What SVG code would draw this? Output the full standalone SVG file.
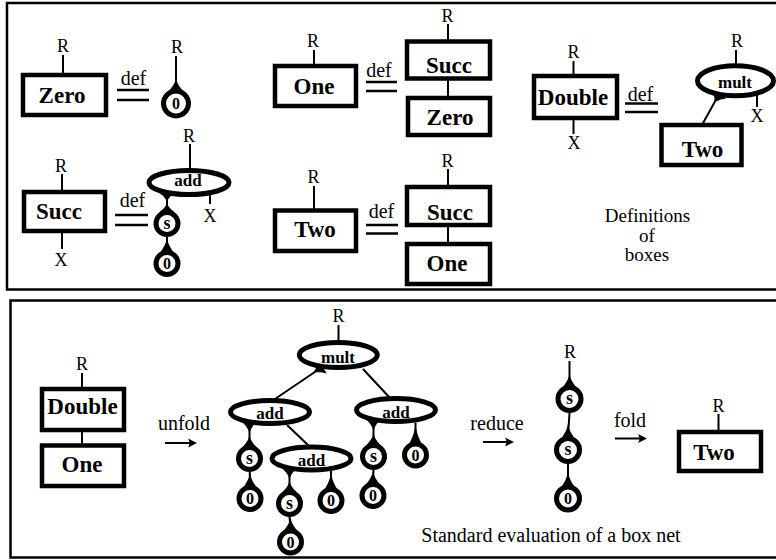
<svg xmlns="http://www.w3.org/2000/svg" width="776" height="560" viewBox="0 0 776 560">
<style>
  .panel{fill:none;stroke:#000;stroke-width:2.5}
  .box{fill:#fff;stroke:#000;stroke-width:4.5}
  .agent{fill:#fff;stroke:#000;stroke-width:5}
  .wire{stroke:#000;stroke-width:2;fill:none}
  .eq{stroke:#000;stroke-width:2.5}
  .spk{fill:#000}
  text{font-family:"Liberation Serif","Times New Roman",serif;fill:#000;text-anchor:middle}
  .lbl{font-size:18px}
  .cap{font-size:20px}
  .note{font-size:19px}
  .big{font-size:23px;font-weight:bold}
  .nm{font-size:17px;font-weight:bold}
  .zr{font-size:16px;font-weight:bold}
  .ss{font-size:18px;font-weight:bold}
</style>
<defs>
  <!-- principal-port marker: apex at (0,-13), base tucked into the agent outline -->
  <path id="spk" class="spk" d="M0,-13 C0.5,-7 3,-2.5 8,4 L-8,4 C-3,-2.5 -0.5,-7 0,-13 Z"/>
  <path id="arw" d="M0,0 L-9,-4.5 Q-6,0 -9,4.5 Z" fill="#000"/>
</defs>

<!-- frames -->
<rect class="panel" x="7" y="3" width="775" height="286.5"/>
<rect class="panel" x="10.5" y="300.5" width="772" height="257"/>

<!-- wires and port markers -->
<g id="connectors">
  <!-- Zero definition -->
  <line class="wire" x1="63" y1="55" x2="63" y2="75"/>
  <line class="wire" x1="176" y1="56" x2="176" y2="82"/>
  <use href="#spk" transform="translate(176,88.5) scale(1,0.85)"/>
  <!-- One definition -->
  <line class="wire" x1="314" y1="50" x2="314" y2="66"/>
  <line class="wire" x1="448" y1="24" x2="448" y2="41.5"/>
  <line class="wire" x1="448" y1="78.5" x2="448" y2="98"/>
  <!-- Double definition -->
  <line class="wire" x1="573.5" y1="61" x2="573.5" y2="76"/>
  <line class="wire" x1="573.5" y1="118" x2="573.5" y2="134"/>
  <line class="wire" x1="736" y1="50" x2="736" y2="66"/>
  <line class="wire" x1="757" y1="94" x2="757" y2="107"/>
  <line class="wire" x1="718" y1="96" x2="702" y2="125"/>
  <use href="#spk" transform="translate(718,96.5) rotate(-149) scale(1,0.65)"/>
  <!-- Succ definition -->
  <line class="wire" x1="62" y1="174" x2="62" y2="192"/>
  <line class="wire" x1="62" y1="231" x2="62" y2="249"/>
  <line class="wire" x1="190" y1="144" x2="190" y2="170"/>
  <line class="wire" x1="210" y1="192" x2="210" y2="204"/>
  <line class="wire" x1="167" y1="195" x2="167" y2="210"/>
  <use href="#spk" transform="translate(167,195) rotate(180) scale(1,0.6)"/>
  <use href="#spk" transform="translate(167,210) scale(1,0.6)"/>
  <line class="wire" x1="167" y1="237" x2="167" y2="250"/>
  <use href="#spk" transform="translate(167,250)"/>
  <!-- Two definition -->
  <line class="wire" x1="314" y1="186" x2="314" y2="210.5"/>
  <line class="wire" x1="448" y1="169" x2="448" y2="187"/>
  <line class="wire" x1="448" y1="225" x2="448" y2="244"/>

  <!-- box net -->
  <line class="wire" x1="82" y1="373" x2="82" y2="389"/>
  <line class="wire" x1="82" y1="430" x2="82" y2="445.5"/>
  <!-- unfolded net -->
  <line class="wire" x1="338.5" y1="325" x2="338.5" y2="342"/>
  <line class="wire" x1="320" y1="368.5" x2="275" y2="399"/>
  <use href="#spk" transform="translate(320,368.5) rotate(-122.7) scale(1,0.75)"/>
  <line class="wire" x1="363" y1="369" x2="390" y2="398"/>
  <line class="wire" x1="249.5" y1="424" x2="249.5" y2="445"/>
  <use href="#spk" transform="translate(249.5,424.2) rotate(180) scale(1,0.8)"/>
  <use href="#spk" transform="translate(249.5,445) scale(1,0.8)"/>
  <line class="wire" x1="287" y1="425" x2="309" y2="446"/>
  <line class="wire" x1="249.75" y1="472" x2="250" y2="485"/>
  <use href="#spk" transform="translate(250,485)"/>
  <line class="wire" x1="289.5" y1="470.4" x2="289.5" y2="490"/>
  <use href="#spk" transform="translate(289.5,470.4) rotate(180) scale(1,0.75)"/>
  <use href="#spk" transform="translate(289.5,490) scale(1,0.75)"/>
  <line class="wire" x1="331" y1="470.9" x2="331" y2="487"/>
  <use href="#spk" transform="translate(331,487) scale(1,1.2)"/>
  <line class="wire" x1="289.5" y1="517" x2="290.5" y2="528.5"/>
  <use href="#spk" transform="translate(290.5,528.5) scale(1,0.9)"/>
  <line class="wire" x1="373.5" y1="421.8" x2="373.5" y2="443"/>
  <use href="#spk" transform="translate(373.5,421.8) rotate(180) scale(1,0.8)"/>
  <use href="#spk" transform="translate(373.5,443) scale(1,0.8)"/>
  <line class="wire" x1="415.5" y1="422.4" x2="415.5" y2="441.5"/>
  <use href="#spk" transform="translate(415.5,441.5) scale(1,1.4)"/>
  <line class="wire" x1="373.5" y1="470" x2="373" y2="482"/>
  <use href="#spk" transform="translate(373,482) scale(1,0.92)"/>
  <!-- reduced net -->
  <line class="wire" x1="569.5" y1="361" x2="569.5" y2="385"/>
  <use href="#spk" transform="translate(569.5,385) scale(1,0.92)"/>
  <line class="wire" x1="569.5" y1="413" x2="568" y2="436"/>
  <use href="#spk" transform="translate(568,436)"/>
  <line class="wire" x1="568" y1="464" x2="568" y2="484.5"/>
  <use href="#spk" transform="translate(568,484.5) scale(1,1.08)"/>
  <!-- folded box -->
  <line class="wire" x1="718.5" y1="414" x2="718.5" y2="432"/>

  <!-- step arrows -->
  <line class="wire" x1="165" y1="443" x2="192" y2="443"/>
  <use href="#arw" transform="translate(197,443)"/>
  <line class="wire" x1="483" y1="442" x2="509" y2="442"/>
  <use href="#arw" transform="translate(514,442)"/>
  <line class="wire" x1="615" y1="438.5" x2="642" y2="438.5"/>
  <use href="#arw" transform="translate(647,438.5)"/>
</g>

<!-- free port names -->
<g id="ports" class="lbl">
  <text class="lbl" x="63" y="52">R</text>
  <text class="lbl" x="177" y="53">R</text>
  <text class="lbl" x="313" y="47">R</text>
  <text class="lbl" x="447.5" y="21.5">R</text>
  <text class="lbl" x="573.5" y="58">R</text>
  <text class="lbl" x="574" y="149">X</text>
  <text class="lbl" x="737" y="46.5">R</text>
  <text class="lbl" x="757" y="121.5">X</text>
  <text class="lbl" x="61" y="171.5">R</text>
  <text class="lbl" x="61" y="266">X</text>
  <text class="lbl" x="189" y="142">R</text>
  <text class="lbl" x="210" y="221.5">X</text>
  <text class="lbl" x="313.5" y="183">R</text>
  <text class="lbl" x="447.5" y="166.5">R</text>
  <text class="lbl" x="82" y="370">R</text>
  <text class="lbl" x="338.5" y="322">R</text>
  <text class="lbl" x="570" y="358">R</text>
  <text class="lbl" x="718.5" y="411.5">R</text>
</g>

<!-- definition signs -->
<g id="def-zero"><text class="cap" x="133.5" y="85">def</text><line class="eq" x1="117" y1="90" x2="149" y2="90"/><line class="eq" x1="117" y1="100" x2="149" y2="100"/></g>
<g id="def-one"><text class="cap" x="379" y="77">def</text><line class="eq" x1="366" y1="82" x2="397" y2="82"/><line class="eq" x1="366" y1="91" x2="397" y2="91"/></g>
<g id="def-double"><text class="cap" x="640.5" y="101">def</text><line class="eq" x1="625" y1="103.5" x2="658" y2="103.5"/><line class="eq" x1="625" y1="112" x2="658" y2="112"/></g>
<g id="def-succ"><text class="cap" x="132.5" y="207">def</text><line class="eq" x1="115" y1="215" x2="148" y2="215"/><line class="eq" x1="115" y1="225" x2="148" y2="225"/></g>
<g id="def-two"><text class="cap" x="381.5" y="217.5">def</text><line class="eq" x1="366" y1="225" x2="398" y2="225"/><line class="eq" x1="366" y1="233.5" x2="398" y2="233.5"/></g>

<!-- definitions: left-hand boxes and bodies -->
<g id="zero-box"><rect class="box" x="23" y="75" width="83" height="40"/><text class="big" x="62" y="103">Zero</text></g>
<g id="zero-body"><circle class="agent" cx="176" cy="103.5" r="12.5"/><text class="zr" x="176" y="109">0</text></g>

<g id="one-box"><rect class="box" x="275" y="66" width="81" height="40"/><text class="big" x="314" y="93.5">One</text></g>
<g id="one-body-succ"><rect class="box" x="407" y="41.5" width="83" height="37"/><text class="big" x="449" y="72.5">Succ</text></g>
<g id="one-body-zero"><rect class="box" x="408" y="98" width="82" height="37"/><text class="big" x="450" y="125">Zero</text></g>

<g id="double-box"><rect class="box" x="534" y="76" width="83" height="42"/><text class="big" x="573" y="104.5">Double</text></g>
<g id="double-body-mult"><ellipse class="agent" cx="735.5" cy="80.8" rx="38" ry="15"/><text class="nm" x="735" y="88">mult</text></g>
<g id="double-body-two"><rect class="box" x="661.5" y="125" width="80" height="40"/><text class="big" x="702.5" y="156.5">Two</text></g>

<g id="succ-box"><rect class="box" x="24" y="192" width="81" height="39"/><text class="big" x="59" y="218.5">Succ</text></g>
<g id="succ-body-add"><ellipse class="agent" cx="189" cy="182.5" rx="40" ry="12"/><text class="nm" x="188" y="186">add</text></g>
<g id="succ-body-s"><circle class="agent" cx="167" cy="223.5" r="11"/><text class="ss" x="167" y="228.5">s</text></g>
<g id="succ-body-zero"><circle class="agent" cx="167" cy="263.5" r="11"/><text class="zr" x="167" y="269">0</text></g>

<g id="two-box"><rect class="box" x="275" y="210.5" width="81" height="40.5"/><text class="big" x="315" y="236.5">Two</text></g>
<g id="two-body-succ"><rect class="box" x="407" y="187" width="83" height="38"/><text class="big" x="450" y="220">Succ</text></g>
<g id="two-body-one"><rect class="box" x="407" y="244" width="83" height="40"/><text class="big" x="447" y="271">One</text></g>

<g id="defs-caption"><text class="note" x="647.5" y="221.5">Definitions</text><text class="note" x="647" y="241.5">of</text><text class="note" x="647" y="261">boxes</text></g>

<!-- box net -->
<g id="net-double"><rect class="box" x="42" y="389" width="82" height="41"/><text class="big" x="82.5" y="413.5">Double</text></g>
<g id="net-one"><rect class="box" x="42" y="445.5" width="82" height="40.5"/><text class="big" x="82" y="472">One</text></g>

<!-- unfolded net -->
<g id="u-mult"><ellipse class="agent" cx="338.3" cy="355" rx="39" ry="12.5"/><text class="nm" x="338" y="362.5">mult</text></g>
<g id="u-add-left"><ellipse class="agent" cx="270" cy="412" rx="39.5" ry="11.5"/><text class="nm" x="270" y="419">add</text></g>
<g id="u-add-right"><ellipse class="agent" cx="396" cy="410" rx="39.5" ry="11.5"/><text class="nm" x="396" y="417.5">add</text></g>
<g id="u-add-inner"><ellipse class="agent" cx="311.5" cy="458.5" rx="39.5" ry="11.5"/><text class="nm" x="311.5" y="466">add</text></g>
<g id="u-s1"><circle class="agent" cx="249.5" cy="458.5" r="11"/><text class="ss" x="249.5" y="463.5">s</text></g>
<g id="u-z1"><circle class="agent" cx="250" cy="498.5" r="11"/><text class="zr" x="250" y="504">0</text></g>
<g id="u-s2"><circle class="agent" cx="289.5" cy="503.5" r="11"/><text class="ss" x="289.5" y="508.5">s</text></g>
<g id="u-z2"><circle class="agent" cx="290.5" cy="542" r="11"/><text class="zr" x="290.5" y="547.5">0</text></g>
<g id="u-z3"><circle class="agent" cx="331" cy="500.5" r="11"/><text class="zr" x="331" y="506">0</text></g>
<g id="u-s3"><circle class="agent" cx="373.5" cy="456.5" r="11"/><text class="ss" x="373.5" y="461.5">s</text></g>
<g id="u-z4"><circle class="agent" cx="373" cy="495.5" r="11"/><text class="zr" x="373" y="501">0</text></g>
<g id="u-z5"><circle class="agent" cx="415.5" cy="455" r="11"/><text class="zr" x="415.5" y="460.5">0</text></g>

<!-- reduced net -->
<g id="r-s1"><circle class="agent" cx="569.5" cy="399" r="11.5"/><text class="ss" x="569.5" y="404">s</text></g>
<g id="r-s2"><circle class="agent" cx="568" cy="450" r="11.5"/><text class="ss" x="568" y="455">s</text></g>
<g id="r-z"><circle class="agent" cx="568" cy="498.5" r="11.5"/><text class="zr" x="568" y="504">0</text></g>

<!-- folded box -->
<g id="f-two"><rect class="box" x="679" y="432" width="82" height="39"/><text class="big" x="714" y="460">Two</text></g>

<!-- step labels -->
<g id="steps">
  <text class="cap" x="184" y="430">unfold</text>
  <text class="cap" x="497" y="430">reduce</text>
  <text class="cap" x="630" y="427">fold</text>
  <text class="cap" x="551" y="541.5">Standard evaluation of a box net</text>
</g>
</svg>
